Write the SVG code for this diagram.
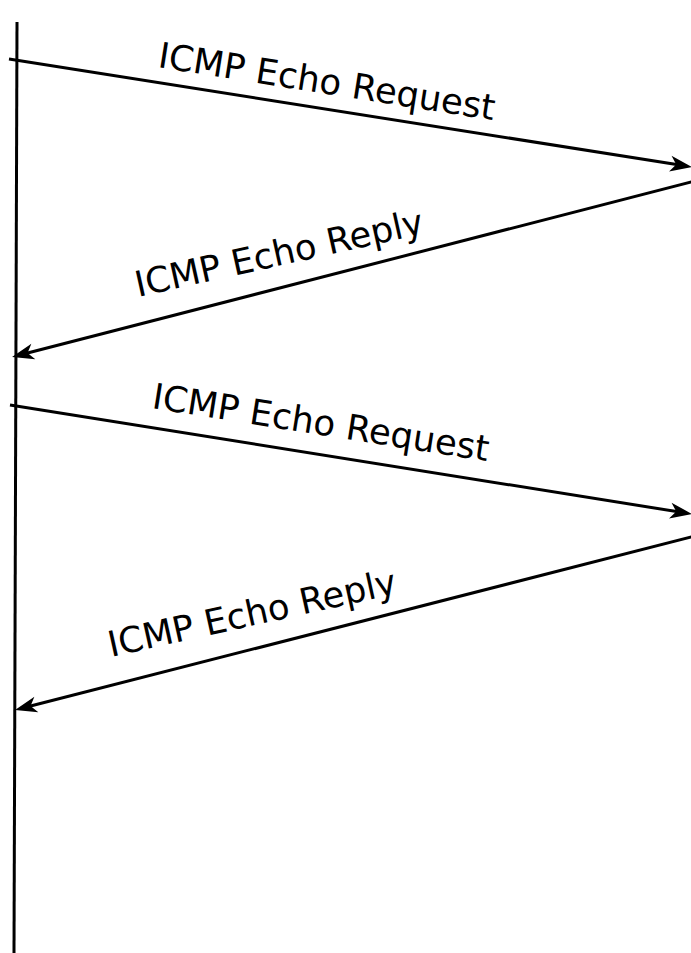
<svg xmlns="http://www.w3.org/2000/svg" width="691" height="953" viewBox="0 0 691 953">
  <style>
    .life { stroke: #000; stroke-width: 3; fill: none; }
    .msg { stroke: #000; stroke-width: 3; fill: none; marker-end: url(#head); }
    .label { font-family: "DejaVu Sans", "Liberation Sans", sans-serif; font-size: 35.5px; fill: #000; }
  </style>
  <defs>
    <marker id="head" markerUnits="userSpaceOnUse" markerWidth="30" markerHeight="20" viewBox="-10 -10 30 20" refX="0" refY="0" orient="auto" overflow="visible">
      <path d="M14,0 L-8,-8 L-2,0 L-8,8 Z" fill="#000"/>
    </marker>
  </defs>
  <rect width="691" height="953" fill="#fff"/>

  <!-- host timeline -->
  <g id="timeline">
    <line class="life" x1="17" y1="22" x2="14" y2="953"/>
  </g>

  <!-- message arrows -->
  <g id="connectors">
    <line class="msg" x1="9" y1="59" x2="678.2" y2="164.8"/>
    <line class="msg" x1="695" y1="181" x2="25.6" y2="353.5"/>
    <line class="msg" x1="10" y1="405" x2="678.2" y2="511.8"/>
    <line class="msg" x1="695" y1="536" x2="28.6" y2="706.5"/>
  </g>

  <!-- message labels -->
  <g id="request1">
    <text class="label" transform="translate(157,67) rotate(9)">ICMP Echo Request</text>
  </g>
  <g id="reply1">
    <text class="label" transform="translate(138,297) rotate(-12.5)">ICMP Echo Reply</text>
  </g>
  <g id="request2">
    <text class="label" transform="translate(151,408) rotate(9)">ICMP Echo Request</text>
  </g>
  <g id="reply2">
    <text class="label" transform="translate(111,657) rotate(-12.5)">ICMP Echo Reply</text>
  </g>
</svg>
